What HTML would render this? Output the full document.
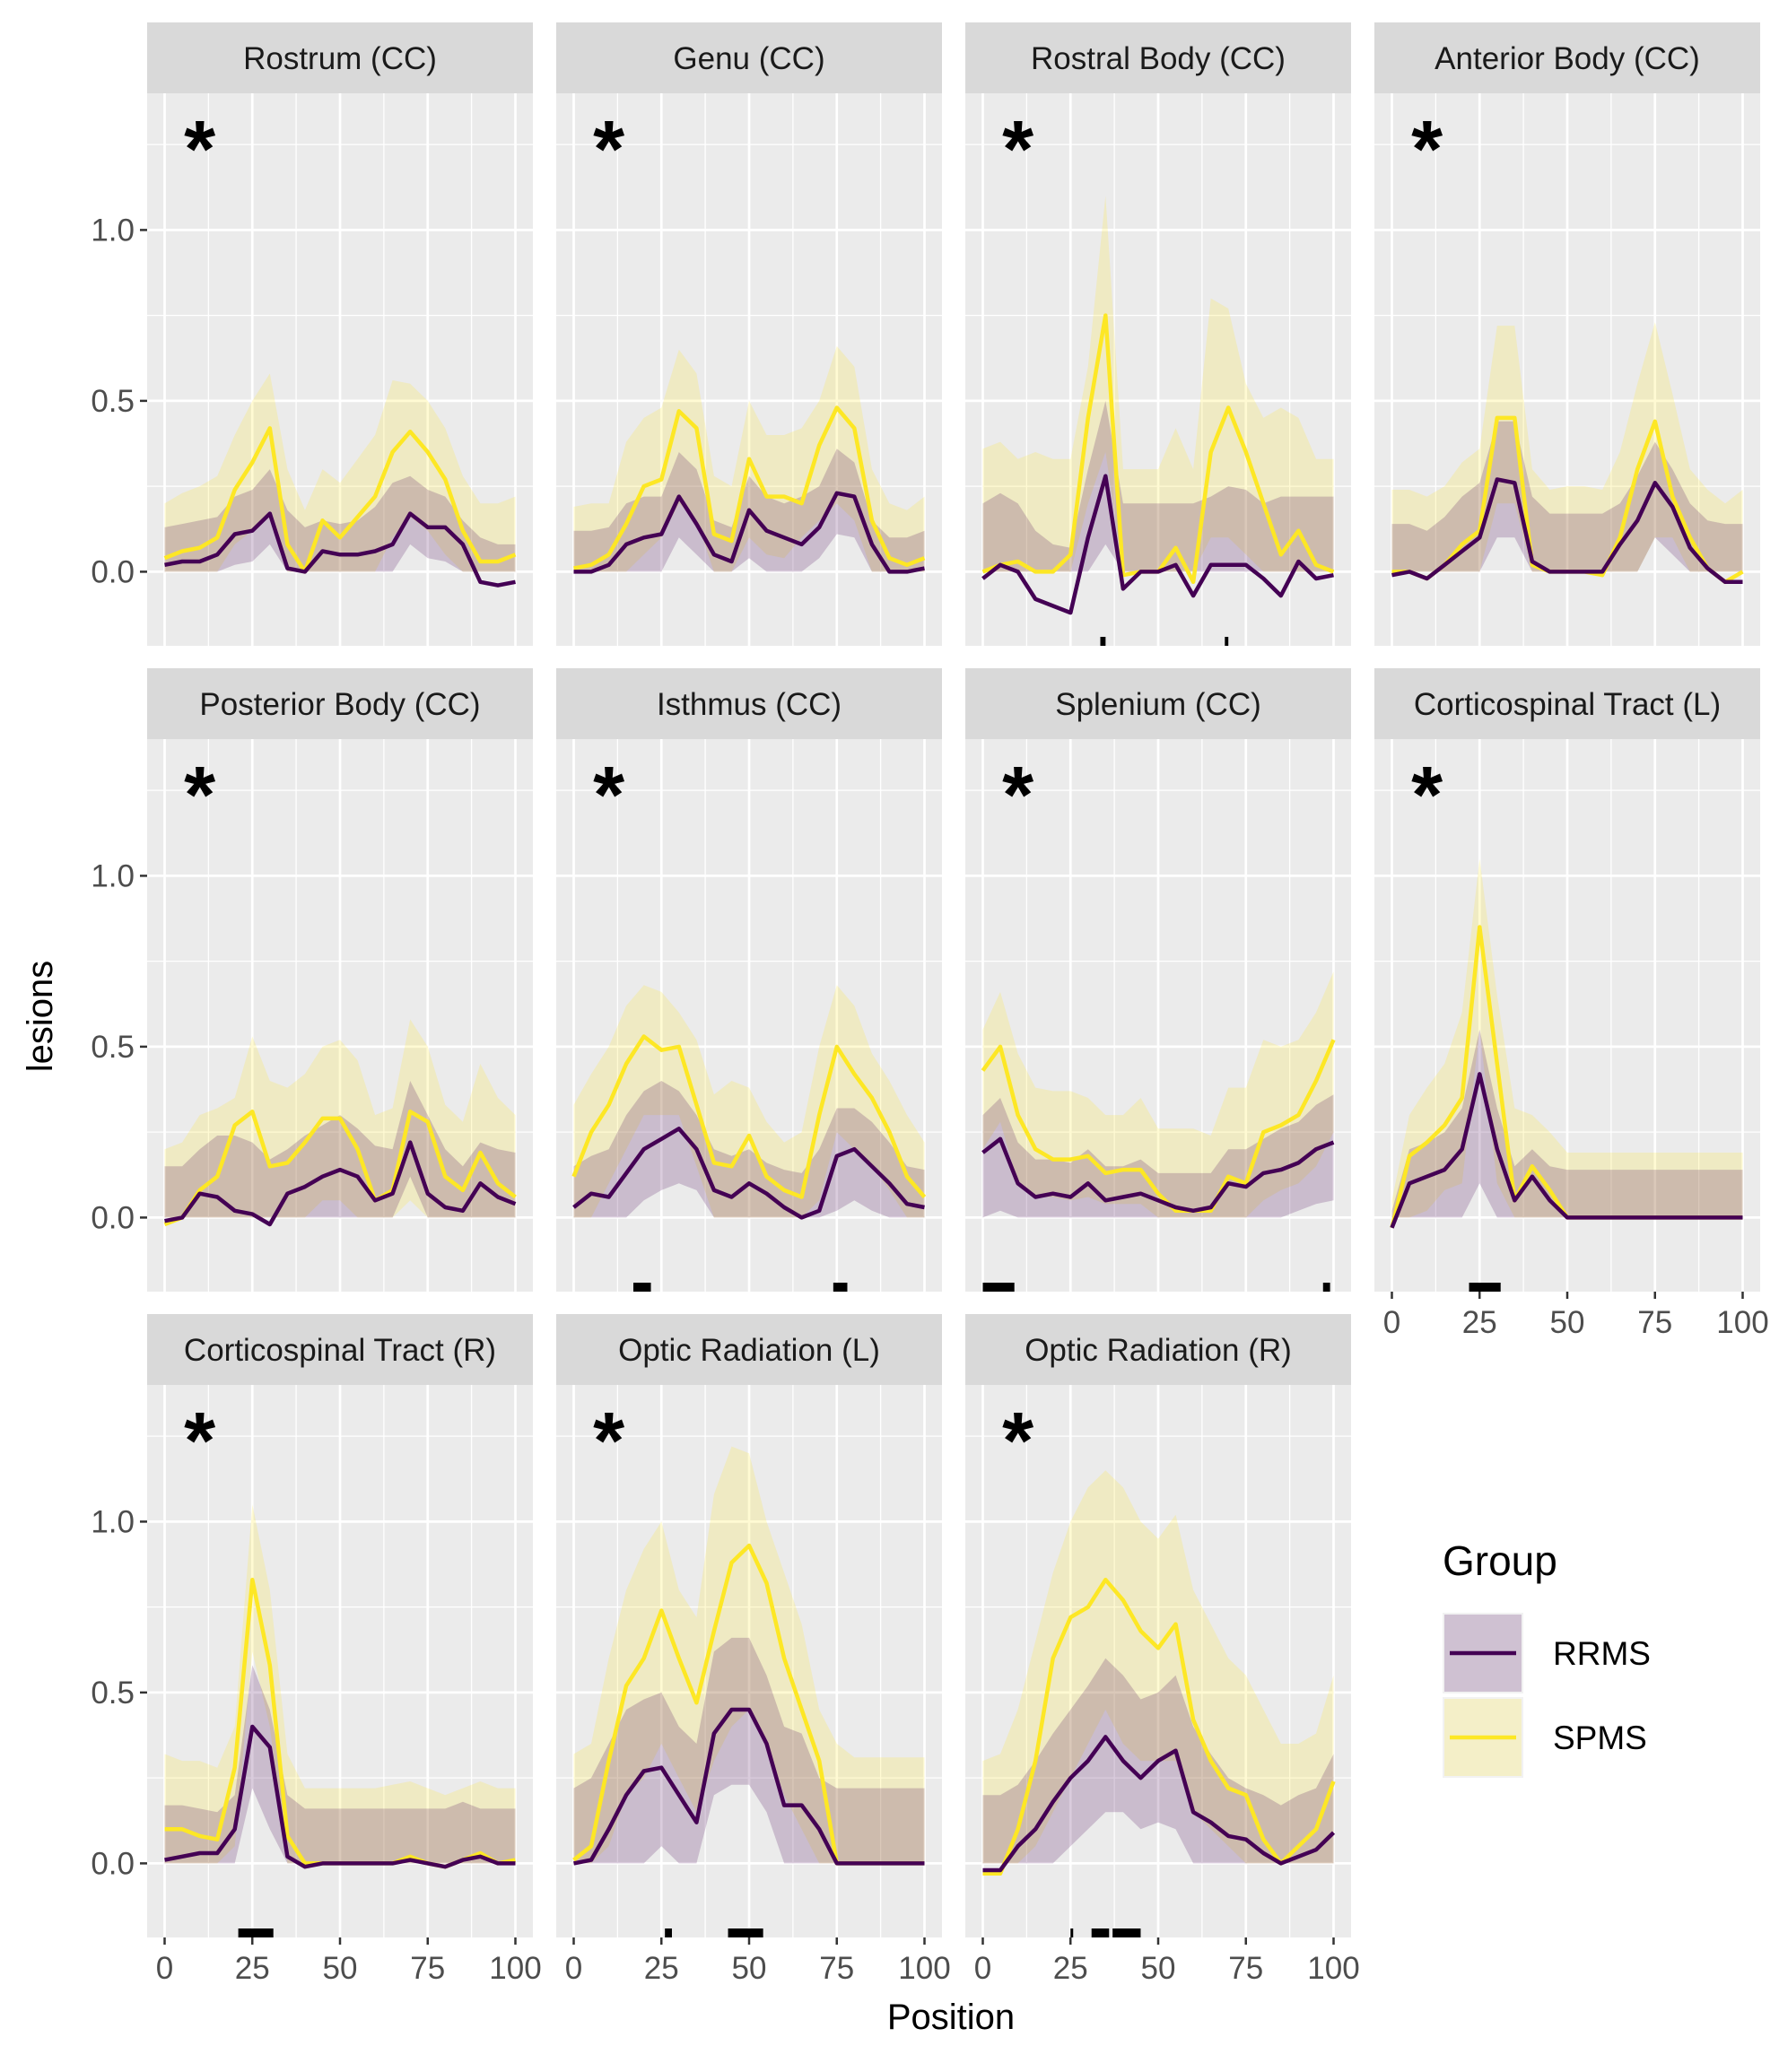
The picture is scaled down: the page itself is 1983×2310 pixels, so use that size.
<!DOCTYPE html>
<html><head><meta charset="utf-8"><style>
html,body{margin:0;padding:0;background:#fff;}
svg{display:block;}
</style></head><body>
<svg id="chart" width="1983" height="2310" viewBox="0 0 1983 2310" xmlns="http://www.w3.org/2000/svg" font-family="Liberation Sans, sans-serif"></svg>
<script>
const panelTitles = ["Rostrum (CC)","Genu (CC)","Rostral Body (CC)","Anterior Body (CC)","Posterior Body (CC)","Isthmus (CC)","Splenium (CC)","Corticospinal Tract (L)","Corticospinal Tract (R)","Optic Radiation (L)","Optic Radiation (R)"];
const positions = [0,5,10,15,20,25,30,35,40,45,50,55,60,65,70,75,80,85,90,95,100];
const xTicks = [0,25,50,75,100];
const yTicks = [0,0.5,1.0];
const yTickLabels = ["0.0","0.5","1.0"];
const rrmsMean = [
[0.02,0.03,0.03,0.05,0.11,0.12,0.17,0.01,0.0,0.06,0.05,0.05,0.06,0.08,0.17,0.13,0.13,0.08,-0.03,-0.04,-0.03],
[0.0,0.0,0.02,0.08,0.1,0.11,0.22,0.14,0.05,0.03,0.18,0.12,0.1,0.08,0.13,0.23,0.22,0.08,0.0,0.0,0.01],
[-0.02,0.02,0.0,-0.08,-0.1,-0.12,0.1,0.28,-0.05,0.0,0.0,0.02,-0.07,0.02,0.02,0.02,-0.02,-0.07,0.03,-0.02,-0.01],
[-0.01,0.0,-0.02,0.02,0.06,0.1,0.27,0.26,0.03,0.0,0.0,0.0,0.0,0.08,0.15,0.26,0.19,0.07,0.01,-0.03,-0.03],
[-0.01,0.0,0.07,0.06,0.02,0.01,-0.02,0.07,0.09,0.12,0.14,0.12,0.05,0.07,0.22,0.07,0.03,0.02,0.1,0.06,0.04],
[0.03,0.07,0.06,0.13,0.2,0.23,0.26,0.2,0.08,0.06,0.1,0.07,0.03,0.0,0.02,0.18,0.2,0.15,0.1,0.04,0.03],
[0.19,0.23,0.1,0.06,0.07,0.06,0.1,0.05,0.06,0.07,0.05,0.03,0.02,0.03,0.1,0.09,0.13,0.14,0.16,0.2,0.22],
[-0.03,0.1,0.12,0.14,0.2,0.42,0.2,0.05,0.12,0.05,0,0,0,0,0,0,0,0,0,0,0],
[0.01,0.02,0.03,0.03,0.1,0.4,0.34,0.02,-0.01,0,0,0,0,0,0.01,0,-0.01,0.01,0.02,0,0.0],
[0.0,0.01,0.1,0.2,0.27,0.28,0.2,0.12,0.38,0.45,0.45,0.35,0.17,0.17,0.1,0.0,0,0,0,0,0],
[-0.02,-0.02,0.05,0.1,0.18,0.25,0.3,0.37,0.3,0.25,0.3,0.33,0.15,0.12,0.08,0.07,0.03,0.0,0.02,0.04,0.09]];
const rrmsLo = [
[0,0,0,0,0.02,0.03,0.08,0,0,0,0,0,0,0,0.08,0.04,0.03,0,0,0,0],
[0,0,0,0,0,0,0.1,0.05,0,0,0.04,0,0,0,0.04,0.11,0.1,0,0,0,0],
[0,0,0,0,0,0,0,0.08,0,0,0,0,0,0,0,0,0,0,0,0,0],
[0,0,0,0,0,0,0.1,0.1,0,0,0,0,0,0,0,0.1,0.05,0,0,0,0],
[0,0,0,0,0,0,0,0,0,0,0,0,0,0,0.12,0,0,0,0,0,0],
[0,0,0,0,0.05,0.08,0.1,0.08,0,0,0,0,0,0,0,0.02,0.05,0.02,0,0,0],
[0,0.02,0,0,0,0,0,0,0,0,0,0,0,0,0,0,0,0,0.02,0.04,0.05],
[0,0,0,0,0,0.1,0,0,0,0,0,0,0,0,0,0,0,0,0,0,0],
[0,0,0,0,0,0.22,0.1,0,0,0,0,0,0,0,0,0,0,0,0,0,0],
[0,0,0,0,0,0.05,0,0,0.2,0.23,0.23,0.15,0,0,0,0,0,0,0,0,0],
[0,0,0,0,0,0.05,0.1,0.15,0.15,0.1,0.12,0.1,0,0,0,0,0,0,0,0,0]];
const rrmsHi = [
[0.13,0.14,0.15,0.16,0.22,0.24,0.30,0.18,0.13,0.15,0.14,0.15,0.19,0.26,0.28,0.24,0.22,0.15,0.10,0.08,0.08],
[0.12,0.12,0.13,0.2,0.22,0.22,0.35,0.3,0.15,0.13,0.28,0.22,0.2,0.22,0.25,0.36,0.32,0.15,0.1,0.1,0.12],
[0.2,0.23,0.2,0.12,0.08,0.07,0.3,0.5,0.2,0.2,0.2,0.2,0.2,0.22,0.25,0.24,0.2,0.22,0.22,0.22,0.22],
[0.14,0.14,0.12,0.16,0.22,0.26,0.44,0.44,0.22,0.17,0.17,0.17,0.17,0.2,0.28,0.38,0.3,0.2,0.15,0.14,0.14],
[0.15,0.15,0.2,0.24,0.24,0.22,0.17,0.2,0.24,0.27,0.3,0.26,0.21,0.2,0.4,0.3,0.2,0.15,0.22,0.2,0.19],
[0.15,0.18,0.2,0.3,0.37,0.4,0.37,0.3,0.2,0.18,0.2,0.16,0.14,0.13,0.2,0.32,0.32,0.28,0.22,0.15,0.14],
[0.3,0.35,0.22,0.17,0.17,0.16,0.2,0.15,0.15,0.17,0.13,0.13,0.13,0.13,0.2,0.2,0.23,0.26,0.28,0.33,0.36],
[0.02,0.2,0.22,0.25,0.32,0.55,0.32,0.15,0.2,0.15,0.14,0.14,0.14,0.14,0.14,0.14,0.14,0.14,0.14,0.14,0.14],
[0.17,0.17,0.16,0.15,0.2,0.58,0.45,0.2,0.16,0.16,0.16,0.16,0.16,0.16,0.16,0.16,0.16,0.18,0.16,0.16,0.16],
[0.22,0.25,0.35,0.45,0.48,0.5,0.4,0.35,0.62,0.66,0.66,0.55,0.4,0.38,0.25,0.22,0.22,0.22,0.22,0.22,0.22],
[0.2,0.2,0.23,0.3,0.38,0.45,0.52,0.6,0.55,0.48,0.5,0.55,0.4,0.32,0.25,0.22,0.2,0.17,0.2,0.22,0.32]];
const spmsMean = [
[0.04,0.06,0.07,0.10,0.24,0.32,0.42,0.08,0.0,0.15,0.10,0.16,0.22,0.35,0.41,0.35,0.27,0.12,0.03,0.03,0.05],
[0.01,0.02,0.05,0.14,0.25,0.27,0.47,0.42,0.11,0.09,0.33,0.22,0.22,0.2,0.37,0.48,0.42,0.15,0.04,0.02,0.04],
[0.0,0.02,0.03,0.0,0.0,0.05,0.45,0.75,-0.01,0.0,0.0,0.07,-0.03,0.35,0.48,0.35,0.2,0.05,0.12,0.02,0.0],
[0.0,0.0,-0.02,0.02,0.08,0.12,0.45,0.45,0.02,0.0,0.0,0.0,-0.01,0.1,0.3,0.44,0.22,0.1,0.01,-0.03,0.0],
[-0.02,0.0,0.08,0.12,0.27,0.31,0.15,0.16,0.22,0.29,0.29,0.2,0.05,0.08,0.31,0.28,0.12,0.08,0.19,0.1,0.06],
[0.12,0.25,0.33,0.45,0.53,0.49,0.5,0.33,0.16,0.15,0.24,0.12,0.08,0.06,0.3,0.5,0.42,0.35,0.25,0.12,0.06],
[0.43,0.5,0.3,0.2,0.17,0.17,0.18,0.13,0.14,0.14,0.07,0.02,0.02,0.02,0.12,0.1,0.25,0.27,0.3,0.4,0.52],
[-0.03,0.18,0.22,0.27,0.35,0.85,0.45,0.05,0.15,0.08,0,0,0,0,0,0,0,0,0,0,0],
[0.1,0.1,0.08,0.07,0.28,0.83,0.58,0.08,0.0,0,0,0,0,0.0,0.02,0.0,-0.01,0.01,0.03,0.0,0.01],
[0.01,0.05,0.3,0.52,0.6,0.74,0.6,0.47,0.68,0.88,0.93,0.82,0.6,0.45,0.3,0.0,0,0,0,0,0],
[-0.03,-0.03,0.1,0.3,0.6,0.72,0.75,0.83,0.77,0.68,0.63,0.7,0.42,0.3,0.22,0.2,0.07,0.0,0.05,0.1,0.24]];
const spmsLo = [
[0,0,0,0,0.08,0.12,0.18,0,0,0,0,0,0,0.1,0.16,0.12,0.05,0,0,0,0],
[0,0,0,0,0.05,0.1,0.2,0.15,0,0,0.1,0.05,0.04,0.1,0.15,0.2,0.15,0,0,0,0],
[0,0,0,0,0,0,0.2,0.35,0,0,0,0,0,0.1,0.1,0.05,0,0,0,0,0],
[0,0,0,0,0,0,0.2,0.2,0,0,0,0,0,0,0,0.1,0.1,0,0,0,0],
[0,0,0,0,0,0,0,0,0,0.05,0.05,0,0,0,0.05,0,0,0,0,0,0],
[0,0,0.1,0.2,0.3,0.3,0.3,0.15,0,0,0,0,0,0,0.05,0.25,0.2,0.15,0.08,0,0],
[0.2,0.28,0.1,0.06,0.06,0.05,0.06,0.04,0.04,0.04,0,0,0,0,0,0,0.05,0.08,0.1,0.15,0.25],
[0,0,0.02,0.08,0.1,0.55,0.1,0,0,0,0,0,0,0,0,0,0,0,0,0,0],
[0,0,0,0,0.05,0.62,0.4,0,0,0,0,0,0,0,0,0,0,0,0,0,0],
[0,0,0.05,0.2,0.25,0.35,0.25,0.15,0.3,0.4,0.45,0.35,0.2,0.1,0,0,0,0,0,0,0],
[0,0,0,0.05,0.15,0.25,0.35,0.45,0.35,0.3,0.3,0.3,0.15,0.1,0.05,0,0,0,0,0,0]];
const spmsHi = [
[0.20,0.23,0.25,0.28,0.40,0.50,0.58,0.30,0.18,0.30,0.26,0.33,0.40,0.56,0.55,0.50,0.42,0.28,0.20,0.20,0.22],
[0.19,0.2,0.2,0.38,0.45,0.48,0.65,0.58,0.28,0.25,0.5,0.4,0.4,0.42,0.5,0.66,0.6,0.3,0.2,0.18,0.22],
[0.36,0.38,0.33,0.35,0.33,0.33,0.6,1.1,0.3,0.3,0.3,0.42,0.3,0.8,0.77,0.55,0.45,0.48,0.45,0.33,0.33],
[0.24,0.24,0.22,0.25,0.32,0.36,0.72,0.72,0.3,0.24,0.25,0.25,0.24,0.35,0.55,0.73,0.52,0.3,0.24,0.2,0.24],
[0.2,0.22,0.3,0.32,0.35,0.53,0.4,0.38,0.42,0.5,0.52,0.46,0.3,0.32,0.58,0.5,0.33,0.28,0.45,0.35,0.3],
[0.33,0.42,0.5,0.62,0.68,0.66,0.6,0.52,0.36,0.4,0.38,0.28,0.22,0.25,0.5,0.68,0.62,0.48,0.4,0.3,0.22],
[0.55,0.66,0.48,0.38,0.37,0.37,0.35,0.3,0.3,0.35,0.26,0.26,0.26,0.24,0.38,0.38,0.52,0.5,0.52,0.6,0.72],
[0.05,0.3,0.38,0.45,0.6,1.05,0.65,0.32,0.3,0.25,0.19,0.19,0.19,0.19,0.19,0.19,0.19,0.19,0.19,0.19,0.19],
[0.32,0.3,0.3,0.28,0.4,1.05,0.8,0.32,0.22,0.22,0.22,0.22,0.22,0.23,0.24,0.22,0.2,0.22,0.24,0.22,0.22],
[0.32,0.35,0.6,0.8,0.92,1.0,0.8,0.72,1.08,1.22,1.2,1.0,0.85,0.7,0.45,0.35,0.31,0.31,0.31,0.31,0.31],
[0.3,0.32,0.45,0.65,0.85,1.0,1.1,1.15,1.1,1.0,0.95,1.02,0.8,0.7,0.6,0.55,0.45,0.35,0.35,0.38,0.55]];
const sigStarts = [[],[],[33.5,69],[],[],[17,74],[0,97],[22],[21],[26,44],[25,31,37]];
const sigEnds   = [[],[],[35,70],[],[],[22,78],[9,99],[31],[31],[28,54],[25.6,36,45]];

const NS = "http://www.w3.org/2000/svg";
const svg = document.getElementById('chart');
function mk(tag, attrs, parent){ const e=document.createElementNS(NS,tag); for(const k in attrs) e.setAttribute(k,attrs[k]); (parent||svg).appendChild(e); return e; }

const LEFT0=164, PITCHX=456, PW=430, TOP0=25, PITCHY=720, STRIP=79, PH=616;
const YMAX=1.40, YUNIT=381;
function xs(p,c){ return LEFT0+PITCHX*c+19.5+p*3.91; }
function ys(v,r){ return TOP0+PITCHY*r+STRIP+(YMAX-v)*YUNIT; }

function bandPath(lo,hi,c,r){
  let d='';
  positions.forEach((p,i)=>{ d+=(i?'L':'M')+xs(p,c).toFixed(1)+','+ys(hi[i],r).toFixed(1); });
  for(let i=positions.length-1;i>=0;i--) d+='L'+xs(positions[i],c).toFixed(1)+','+ys(lo[i],r).toFixed(1);
  return d+'Z';
}
function linePath(vals,c,r){
  let d='';
  positions.forEach((p,i)=>{ d+=(i?'L':'M')+xs(p,c).toFixed(1)+','+ys(vals[i],r).toFixed(1); });
  return d;
}

panelTitles.forEach((title,k)=>{
  const r=Math.floor(k/4), c=k%4;
  const left=LEFT0+PITCHX*c, top=TOP0+PITCHY*r, ptop=top+STRIP;
  const g=mk('g',{});
  
  
  const strip=mk('rect',{x:left,y:top,width:PW,height:STRIP,fill:'#d9d9d9'},g);
  
  
  const st=mk('text',{x:left+PW/2,y:top+52,'text-anchor':'middle','font-size':35,fill:'#1a1a1a'},g);
  st.textContent=title;
  
  
  const bg=mk('rect',{x:left,y:ptop,width:PW,height:PH,fill:'#ebebeb'},g);
  
  
  const clipId='clip'+k;
  const cp=mk('clipPath',{id:clipId},g); mk('rect',{x:left,y:ptop,width:PW,height:PH},cp);
  [12.5,37.5,62.5,87.5].forEach(p=>mk('line',{x1:xs(p,c),x2:xs(p,c),y1:ptop,y2:ptop+PH,stroke:'#fff','stroke-width':1.3},g));
  [0.25,0.75,1.25].forEach(v=>mk('line',{x1:left,x2:left+PW,y1:ys(v,r),y2:ys(v,r),stroke:'#fff','stroke-width':1.3},g));
  xTicks.forEach(p=>mk('line',{x1:xs(p,c),x2:xs(p,c),y1:ptop,y2:ptop+PH,stroke:'#fff','stroke-width':2.7},g));
  yTicks.forEach(v=>mk('line',{x1:left,x2:left+PW,y1:ys(v,r),y2:ys(v,r),stroke:'#fff','stroke-width':2.7},g));
  const dg=mk('g',{'clip-path':'url(#'+clipId+')'},g);
  const sb=mk('path',{d:bandPath(spmsLo[k],spmsHi[k],c,r),fill:'#FDE725','fill-opacity':0.2},dg);
  
  
  const rb=mk('path',{d:bandPath(rrmsLo[k],rrmsHi[k],c,r),fill:'#440154','fill-opacity':0.2},dg);
  
  
  const sl=mk('path',{d:linePath(spmsMean[k],c,r),fill:'none',stroke:'#FDE725','stroke-width':4.5,'stroke-linejoin':'round'},dg);
  
  
  const rl=mk('path',{d:linePath(rrmsMean[k],c,r),fill:'none',stroke:'#440154','stroke-width':4.5,'stroke-linejoin':'round'},dg);
  
  
  sigStarts[k].forEach((s,j)=>{
    const e=sigEnds[k][j];
    const b=mk('rect',{x:xs(s,c),y:ptop+PH-10,width:Math.max(3,xs(e,c)-xs(s,c)),height:10,fill:'#000'},g);
    
    
  });
  const ast=mk('text',{x:xs(10,c),y:ptop+93,'text-anchor':'middle','font-size':90,'font-weight':'bold',fill:'#000'},g);
  ast.textContent='*';
  
  
  if(c===0){
    yTicks.forEach((v,i)=>{
      mk('line',{x1:left-8,x2:left,y1:ys(v,r),y2:ys(v,r),stroke:'#333','stroke-width':2.5},g);
      const t=mk('text',{x:left-14,y:ys(v,r)+12,'text-anchor':'end','font-size':35,fill:'#4d4d4d'},g);
      t.textContent=yTickLabels[i];
      
      
    });
  }
  if(r===2 || k===7){
    xTicks.forEach(p=>{
      mk('line',{x1:xs(p,c),x2:xs(p,c),y1:ptop+PH,y2:ptop+PH+8,stroke:'#333','stroke-width':2.5},g);
      const t=mk('text',{x:xs(p,c),y:ptop+PH+46,'text-anchor':'middle','font-size':35,fill:'#4d4d4d'},g);
      t.textContent=String(p);
      
      
    });
  }
});

const yt=mk('text',{x:0,y:0,transform:'translate(58,1133) rotate(-90)','text-anchor':'middle','font-size':40,fill:'#000'});
yt.textContent='lesions';


const xt=mk('text',{x:1060,y:2262,'text-anchor':'middle','font-size':40,fill:'#000'});
xt.textContent='Position';



const lg=mk('g',{});


const lt=mk('text',{x:1608,y:1756,'font-size':46,fill:'#000'},lg);
lt.textContent='Group';


const legendGroups=['RRMS','SPMS'];
const legendColors=['#440154','#FDE725'];
legendGroups.forEach((name,i)=>{
  const y0=1798+i*94;
  const e=mk('g',{},lg);
  
  
  mk('rect',{x:1608,y:y0,width:90,height:90,fill:'#f2f2f2'},e);
  mk('rect',{x:1610,y:y0+2,width:86,height:86,fill:legendColors[i],'fill-opacity':0.2},e);
  mk('line',{x1:1616,x2:1690,y1:y0+45,y2:y0+45,stroke:legendColors[i],'stroke-width':4.5},e);
  const t=mk('text',{x:1731,y:y0+58,'font-size':37,fill:'#000'},e);
  t.textContent=name;
});
</script>
</body></html>
